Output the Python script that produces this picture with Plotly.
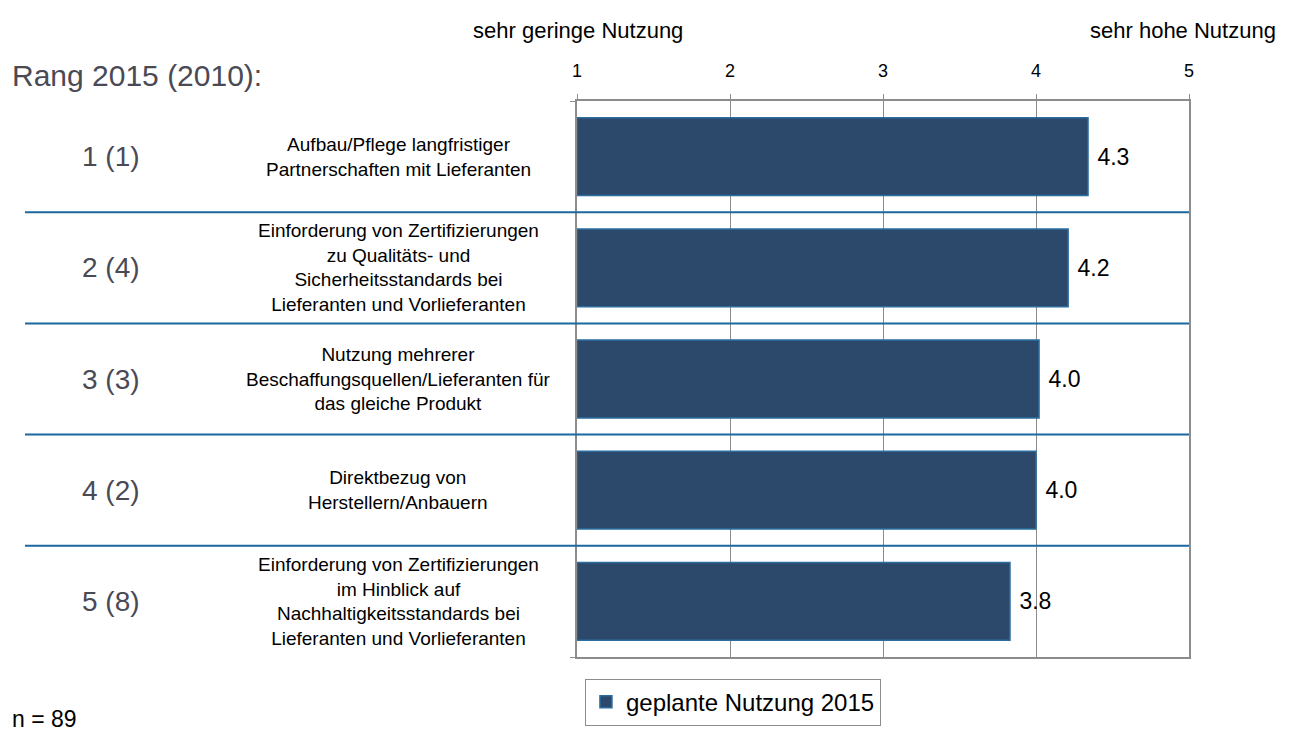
import plotly.graph_objects as go

categories = [
    "Aufbau/Pflege langfristiger<br>Partnerschaften mit Lieferanten",
    "Einforderung von Zertifizierungen<br>zu Qualitäts- und<br>Sicherheitsstandards bei<br>Lieferanten und Vorlieferanten",
    "Nutzung mehrerer<br>Beschaffungsquellen/Lieferanten für<br>das gleiche Produkt",
    "Direktbezug von<br>Herstellern/Anbauern",
    "Einforderung von Zertifizierungen<br>im Hinblick auf<br>Nachhaltigkeitsstandards bei<br>Lieferanten und Vorlieferanten",
]
ranks = ["1 (1)", "2 (4)", "3 (3)", "4 (2)", "5 (8)"]
values = [4.34, 4.21, 4.02, 4.0, 3.83]
series_name = "geplante Nutzung 2015"
x_ticks = [1, 2, 3, 4, 5]

FONT = "Liberation Sans, Arial, sans-serif"
ids = list(range(len(categories)))

fig = go.Figure()
fig.add_trace(go.Bar(
    y=ids, x=[v - 1 for v in values], base=1, orientation="h",
    name=series_name, width=0.7,
    marker=dict(color="#2c496c", line=dict(color="#2a6d9e", width=1.5)),
    text=["\u00a0" + f"{v:.1f}" for v in values], textposition="outside",
    textfont=dict(size=23, color="#000000", family=FONT),
    cliponaxis=False, showlegend=True,
))

shapes = []
for i in range(len(categories) - 1):
    shapes.append(dict(type="line", xref="paper", yref="y", x0=-0.902, x1=1.0,
                       y0=i + 0.5, y1=i + 0.5, line=dict(color="#1c67a0", width=2), layer="above"))
fig.update_layout(shapes=shapes)

annotations = []
for i, (c, r) in enumerate(zip(categories, ranks)):
    annotations.append(dict(xref="paper", yref="y", x=-0.292, y=i, text=c, showarrow=False,
                            xanchor="center", yanchor="middle", align="center",
                            font=dict(size=19, color="#000000", family=FONT)))
    annotations.append(dict(xref="paper", yref="y", x=-0.761, y=i, text=r, showarrow=False,
                            xanchor="center", yanchor="middle",
                            font=dict(size=28, color="#4a4a55", family=FONT)))
annotations += [
    dict(xref="paper", yref="paper", x=0.0016, y=1.1266, text="sehr geringe Nutzung", showarrow=False,
         xanchor="center", yanchor="middle", font=dict(size=22, color="#000", family=FONT)),
    dict(xref="paper", yref="paper", x=0.99, y=1.1266, text="sehr hohe Nutzung", showarrow=False,
         xanchor="center", yanchor="middle", font=dict(size=22, color="#000", family=FONT)),
    dict(xref="paper", yref="paper", x=-0.9265, y=1.0463, text="Rang 2015 (2010):", showarrow=False,
         xanchor="left", yanchor="middle", font=dict(size=30, color="#4a4a55", family=FONT)),
    dict(xref="paper", yref="paper", x=-0.9265, y=-0.111, text="n = 89", showarrow=False,
         xanchor="left", yanchor="middle", font=dict(size=23, color="#000", family=FONT)),
]
fig.update_layout(annotations=annotations)

fig.update_layout(
    width=1282, height=730,
    margin=dict(l=569, r=101, t=93, b=76),
    plot_bgcolor="white", paper_bgcolor="white",
    font=dict(family=FONT, color="#000"),
    xaxis=dict(range=[1, 5], side="top", tickvals=x_ticks, ticks="outside", ticklen=5,
               tickcolor="#8c8c8c", showgrid=True, gridcolor="#8c8c8c", gridwidth=1,
               showline=True, linecolor="#8c8c8c", linewidth=1.5, mirror=True,
               tickfont=dict(size=18, color="#000", family=FONT), ticklabelstandoff=10,
               zeroline=False, fixedrange=True),
    yaxis=dict(range=[4.5, -0.5], tickvals=[-0.5, 0.5, 1.5, 2.5, 3.5, 4.5], ticks="outside",
               ticklen=5, tickcolor="#8c8c8c", showticklabels=False, showgrid=False,
               showline=True, linecolor="#8c8c8c", linewidth=1.5, mirror=True,
               zeroline=False, fixedrange=True),
    legend=dict(x=0.013, y=-0.039, xanchor="left", yanchor="top", orientation="h",
                bordercolor="#8c8c8c", borderwidth=1, bgcolor="white",
                font=dict(size=24, color="#000", family=FONT)),
)

fig.write_html("out.html")
